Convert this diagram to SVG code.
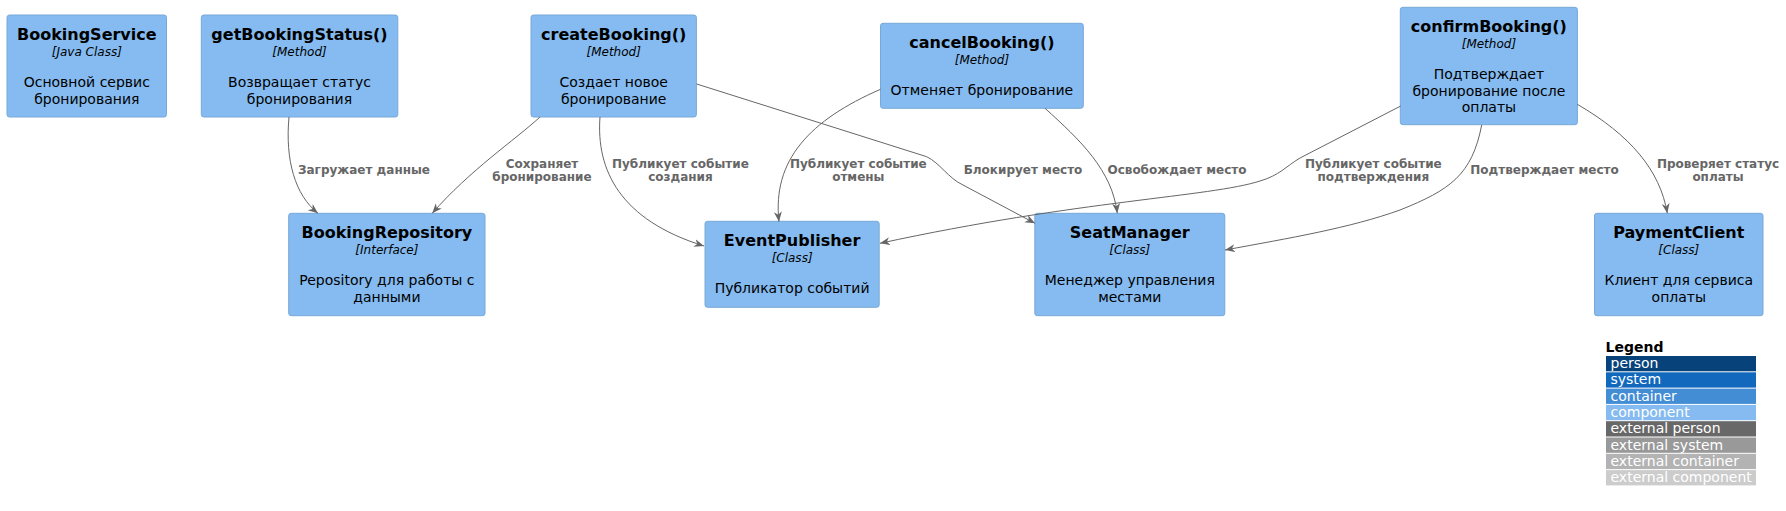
<svg xmlns="http://www.w3.org/2000/svg" width="1786" height="511" viewBox="0 0 1786 511">
<style>
.box{fill:#85BBF0;stroke:#78A8D8;stroke-width:1}
.t{font-family:"DejaVu Sans",sans-serif;font-size:16px;font-weight:bold;fill:#000;text-anchor:middle}
.s{font-family:"DejaVu Sans",sans-serif;font-size:12px;font-style:italic;fill:#000;text-anchor:middle}
.d{font-family:"DejaVu Sans",sans-serif;font-size:14px;fill:#000;text-anchor:middle}
.e{fill:none;stroke:#666666;stroke-width:1;marker-end:url(#arr)}
.l{font-family:"DejaVu Sans",sans-serif;font-size:12px;font-weight:bold;fill:#666666;text-anchor:middle}
.lg{font-family:"DejaVu Sans",sans-serif;font-size:14px;fill:#FFFFFF}
.lt{font-family:"DejaVu Sans",sans-serif;font-size:14px;font-weight:bold;fill:#000}
</style>
<defs>
<marker id="arr" markerUnits="userSpaceOnUse" markerWidth="12" markerHeight="10" refX="10" refY="4" orient="auto">
<path d="M0,0 L10,4 L0,8 L3,4 Z" fill="#666666"/>
</marker>
</defs>
<rect width="1786" height="511" fill="#FFFFFF"/>

<g id="BookingService">
<rect class="box" x="7" y="15" width="159.5" height="102" rx="2.5"/>
<text class="t" x="86.8" y="40">BookingService</text>
<text class="s" x="86.8" y="55.5">[Java Class]</text>
<text class="d" x="86.8" y="87">Основной сервис</text>
<text class="d" x="86.8" y="103.5">бронирования</text>
</g>

<g id="getBookingStatus">
<rect class="box" x="201.3" y="15" width="196.5" height="102" rx="2.5"/>
<text class="t" x="299.5" y="40">getBookingStatus()</text>
<text class="s" x="299.5" y="55.5">[Method]</text>
<text class="d" x="299.5" y="87">Возвращает статус</text>
<text class="d" x="299.5" y="103.5">бронирования</text>
</g>

<g id="createBooking">
<rect class="box" x="531" y="15" width="165.4" height="102" rx="2.5"/>
<text class="t" x="613.7" y="40">createBooking()</text>
<text class="s" x="613.7" y="55.5">[Method]</text>
<text class="d" x="613.7" y="87">Создает новое</text>
<text class="d" x="613.7" y="103.5">бронирование</text>
</g>

<g id="cancelBooking">
<rect class="box" x="880.5" y="23.3" width="202.8" height="85" rx="2.5"/>
<text class="t" x="981.9" y="48.3">cancelBooking()</text>
<text class="s" x="981.9" y="63.8">[Method]</text>
<text class="d" x="981.9" y="95.3">Отменяет бронирование</text>
</g>

<g id="confirmBooking">
<rect class="box" x="1400.3" y="7.3" width="177.1" height="117.4" rx="2.5"/>
<text class="t" x="1488.9" y="32.3">confirmBooking()</text>
<text class="s" x="1488.9" y="47.8">[Method]</text>
<text class="d" x="1488.9" y="79.3">Подтверждает</text>
<text class="d" x="1488.9" y="95.6">бронирование после</text>
<text class="d" x="1488.9" y="111.9">оплаты</text>
</g>

<g id="BookingRepository">
<rect class="box" x="288.7" y="213.3" width="196.3" height="102.4" rx="2.5"/>
<text class="t" x="386.9" y="238.3">BookingRepository</text>
<text class="s" x="386.9" y="253.8">[Interface]</text>
<text class="d" x="386.9" y="285.3">Pepository для работы с</text>
<text class="d" x="386.9" y="301.6">данными</text>
</g>

<g id="EventPublisher">
<rect class="box" x="705" y="221.3" width="174.2" height="86" rx="2.5"/>
<text class="t" x="792.1" y="246.3">EventPublisher</text>
<text class="s" x="792.1" y="261.8">[Class]</text>
<text class="d" x="792.1" y="293.3">Публикатор событий</text>
</g>

<g id="SeatManager">
<rect class="box" x="1034.8" y="213.3" width="190" height="102.4" rx="2.5"/>
<text class="t" x="1129.8" y="238.3">SeatManager</text>
<text class="s" x="1129.8" y="253.8">[Class]</text>
<text class="d" x="1129.8" y="285.3">Менеджер управления</text>
<text class="d" x="1129.8" y="301.6">местами</text>
</g>

<g id="PaymentClient">
<rect class="box" x="1594.5" y="213.3" width="168.5" height="102.4" rx="2.5"/>
<text class="t" x="1678.8" y="238.3">PaymentClient</text>
<text class="s" x="1678.8" y="253.8">[Class]</text>
<text class="d" x="1678.8" y="285.3">Клиент для сервиса</text>
<text class="d" x="1678.8" y="301.6">оплаты</text>
</g>

<g id="connectors">
<path class="e" d="M289,117 C285,160 295,195 318,213.3"/>
<text class="l" x="364" y="174">Загружает данные</text>

<path class="e" d="M540,117 C515,140 470,170 432.2,213.3"/>
<text class="l" x="542" y="167.5">Сохраняет</text>
<text class="l" x="542" y="181">бронирование</text>

<path class="e" d="M600,117 C596,170 620,220 704,246"/>
<text class="l" x="680.4" y="167.5">Публикует событие</text>
<text class="l" x="680.4" y="181">создания</text>

<path class="e" d="M696.7,84 L926.7,156.7 C940,163 948,178 963,185 L1035,223.3"/>
<text class="l" x="1023" y="174">Блокирует место</text>

<path class="e" d="M880.5,89.3 C810,120 772,160 779,221.7"/>
<text class="l" x="858.3" y="167.5">Публикует событие</text>
<text class="l" x="858.3" y="181">отмены</text>

<path class="e" d="M1045,108.3 C1080,140 1112,170 1117.3,213.3"/>
<text class="l" x="1177" y="174">Освобождает место</text>

<path class="e" d="M1400.7,106 L1300,158 C1285,167 1280,175 1260,181 C1210,197 1080,200 880,243.3"/>
<text class="l" x="1373.3" y="167.5">Публикует событие</text>
<text class="l" x="1373.3" y="181">подтверждения</text>

<path class="e" d="M1481.7,125 C1472,175 1450,190 1400,210 C1350,228 1290,238 1225,250"/>
<text class="l" x="1544.5" y="174">Подтверждает место</text>

<path class="e" d="M1577.3,104.3 C1630,135 1660,170 1667.3,213.3"/>
<text class="l" x="1718" y="167.5">Проверяет статус</text>
<text class="l" x="1718" y="181">оплаты</text>
</g>

<g id="legend">
<text class="lt" x="1605.6" y="352">Legend</text>
<rect x="1606" y="356" width="150" height="15.3" fill="#08427B"/>
<text class="lg" x="1610.5" y="368">person</text>
<rect x="1606" y="372.3" width="150" height="15.3" fill="#1168BD"/>
<text class="lg" x="1610.5" y="384.3">system</text>
<rect x="1606" y="388.6" width="150" height="15.3" fill="#438DD5"/>
<text class="lg" x="1610.5" y="400.6">container</text>
<rect x="1606" y="404.9" width="150" height="15.3" fill="#85BBF0"/>
<text class="lg" x="1610.5" y="416.9">component</text>
<rect x="1606" y="421.2" width="150" height="15.3" fill="#686868"/>
<text class="lg" x="1610.5" y="433.2">external person</text>
<rect x="1606" y="437.5" width="150" height="15.3" fill="#999999"/>
<text class="lg" x="1610.5" y="449.5">external system</text>
<rect x="1606" y="453.8" width="150" height="15.3" fill="#B3B3B3"/>
<text class="lg" x="1610.5" y="465.8">external container</text>
<rect x="1606" y="470.1" width="150" height="15.3" fill="#CCCCCC"/>
<text class="lg" x="1610.5" y="482.1">external component</text>
</g>
</svg>
